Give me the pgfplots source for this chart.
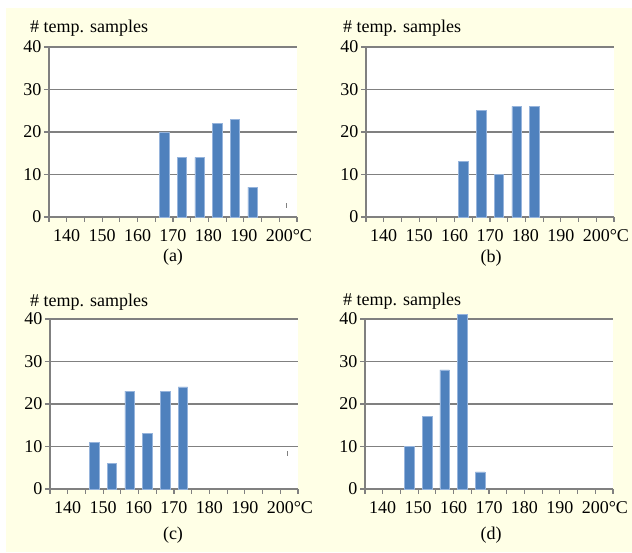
\documentclass[border=0pt]{standalone}
\usepackage{pgfplots}
\pgfplotsset{compat=1.18}
\usepackage{fontspec}
\setmainfont{Liberation Serif}
\definecolor{bgyellow}{RGB}{255,255,230}
\definecolor{barblue}{RGB}{79,129,189}
\definecolor{baredge}{RGB}{150,180,220}
\definecolor{axgray}{RGB}{128,128,128}
\newcommand{\lblfont}{\fontsize{18}{21}\selectfont}
\pgfplotsset{
  panel/.style={
    scale only axis, width=248pt, height=170pt,
    xmin=135, xmax=205, ymin=0, ymax=40,
    xtick={135,140,145,150,155,160,165,170,175,180,185,190,195,200,205},
    xticklabels={{},140,{},150,{},160,{},170,{},180,{},190,{},200\rlap{°C},{}},
    ytick={0,10,20,30,40},
    axis lines=left,
    axis line style={draw=axgray, line width=1.5pt, -},
    ymajorgrids, grid style={draw=axgray, line width=1.8pt},
    tick align=outside, major tick length=5pt,
    tick style={draw=axgray, line width=1.2pt},
    ticklabel style={font=\lblfont},
    yticklabel style={xshift=1pt},
    xticklabel style={yshift=-4pt},
    /pgf/number format/assume math mode=true,
    axis background/.style={fill=white},
    clip=false,
  },
  bars/.style={ybar, bar width=9.5pt, bar shift=0pt, fill=barblue, draw=baredge, line width=0.5pt},
  mark/.style={sharp plot, no marks, draw=gray, line width=1pt},
}
\begin{document}
\begin{tikzpicture}
\useasboundingbox (0,0) rectangle (632pt,553pt);
\fill[white] (0,0) rectangle (632pt,553pt);
\fill[bgyellow] (6pt,1pt) rectangle (632pt,545pt);

% (a)
\begin{axis}[panel, at={(49pt,336pt)}, anchor=south west]
\addplot[bars] coordinates {(167.5,20) (172.5,14) (177.5,14) (182.5,22) (187.5,23) (192.5,7)};
\addplot[mark] coordinates {(202,2.2) (202,3.4)};
\end{axis}
\node[anchor=base west, font=\lblfont, inner sep=0pt] at (30pt,520pt) {\# temp. samples};
\node[anchor=base, font=\lblfont, inner sep=0pt] at (173pt,291pt) {(a)};

% (b)
\begin{axis}[panel, at={(366pt,336pt)}, anchor=south west]
\addplot[bars] coordinates {(162.5,13) (167.5,25) (172.5,10) (177.5,26) (182.5,26)};
\end{axis}
\node[anchor=base west, font=\lblfont, inner sep=0pt] at (343pt,520pt) {\# temp. samples};
\node[anchor=base, font=\lblfont, inner sep=0pt] at (491pt,290pt) {(b)};

% (c)
\begin{axis}[panel, at={(50pt,64pt)}, anchor=south west]
\addplot[bars] coordinates {(147.5,11) (152.5,6) (157.5,23) (162.5,13) (167.5,23) (172.5,24)};
\addplot[mark] coordinates {(202,7.8) (202,9.0)};
\end{axis}
\node[anchor=base west, font=\lblfont, inner sep=0pt] at (30pt,246pt) {\# temp. samples};
\node[anchor=base, font=\lblfont, inner sep=0pt] at (173pt,13pt) {(c)};

% (d)
\begin{axis}[panel, at={(365pt,64pt)}, anchor=south west]
\addplot[bars] coordinates {(147.5,10) (152.5,17) (157.5,28) (162.5,41) (167.5,4)};
\end{axis}
\node[anchor=base west, font=\lblfont, inner sep=0pt] at (343pt,247pt) {\# temp. samples};
\node[anchor=base, font=\lblfont, inner sep=0pt] at (491pt,13pt) {(d)};
\end{tikzpicture}
\end{document}
